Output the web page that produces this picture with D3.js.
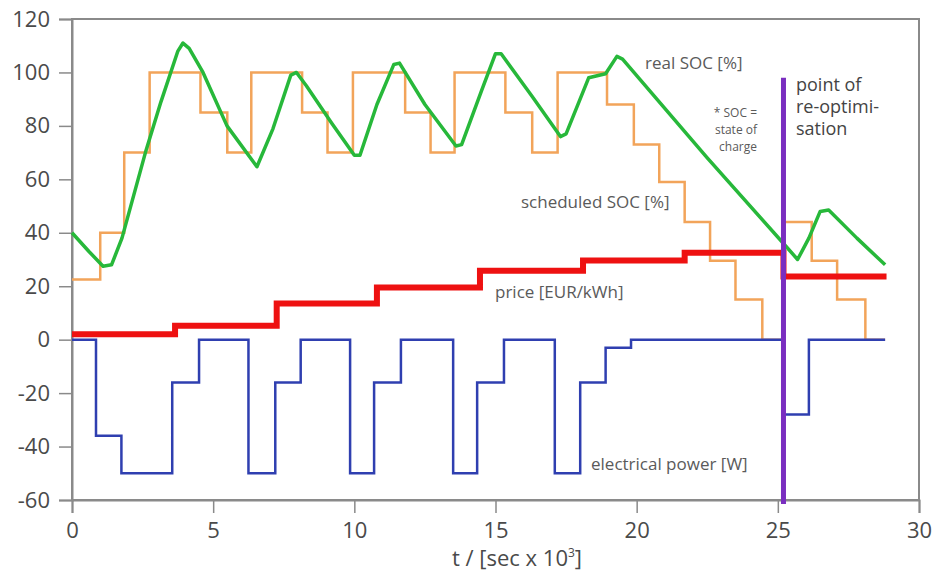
<!DOCTYPE html>
<html>
<head>
<meta charset="utf-8">
<script src="https://cdn.jsdelivr.net/npm/d3@7"></script>
<style>
  body { margin: 0; background: #fff; }
  text { font-family: "Open Sans", "Noto Sans", sans-serif; }
</style>
</head>
<body>
<script>
// scheduled SOC [%] (step after)
var socPlanT = [0, 1.0, 1.85, 2.75, 4.55, 5.5, 6.35, 8.15, 9.05, 9.95, 11.8, 12.7, 13.55, 15.35, 16.3, 17.2, 18.95, 19.9, 20.8, 21.7, 22.6, 23.5, 24.45, 25.2, 26.2, 27.1, 28.1, 28.8];
var socPlanV = [22.5, 40, 70, 100, 85, 70, 100, 85, 70, 100, 85, 70, 100, 85, 70, 100, 88, 73, 59, 44, 29.5, 15, 0, 44, 29.5, 15, 0, 0];

// electrical power [W] (step after)
var powerT = [0, 0.85, 1.75, 3.55, 4.5, 6.25, 7.2, 8.1, 9.85, 10.7, 11.65, 13.5, 14.35, 15.3, 17.1, 18.0, 18.9, 19.8, 25.2, 26.1, 28.8];
var powerV = [0, -36, -50, -16, 0, -50, -16, 0, -50, -16, 0, -50, -16, 0, -50, -16, -3, 0, -28, 0, 0];

// price [EUR/kWh] (step after)
var priceT = [0, 3.65, 7.25, 10.8, 14.45, 18.1, 21.7, 25.2, 28.85];
var priceV = [2, 5.2, 13.5, 19.5, 25.8, 29.6, 32.5, 23.6, 23.6];

// real SOC [%]
var socRealT = [0, 0.6, 1.1, 1.4, 1.77, 2.6, 3.15, 3.75, 3.93, 4.15, 4.64, 5.49, 6.55, 7.12, 7.75, 7.95, 8.3, 9.2, 10.0, 10.2, 10.8, 11.4, 11.6, 12.5, 13.6, 13.8, 14.5, 15.0, 15.2, 16.3, 17.3, 17.5, 18.3, 18.9, 19.3, 19.5, 22.5, 25.2, 25.7, 26.1, 26.5, 26.8, 27.8, 28.8];
var socRealV = [40, 33, 27.5, 28, 38, 70, 89, 108, 111, 109, 100, 80, 64.7, 79, 99, 100, 95, 81, 69, 69, 88, 103, 103.5, 88, 72.5, 73, 93, 107, 107, 91, 76, 77, 98, 99.5, 106, 105, 68, 36, 30, 38, 48, 48.5, 38, 28];

// point of re-optimisation
var reoptT = 25.2;
var reoptRange = [-61.5, 98];

var xTicks = [0, 5, 10, 15, 20, 25, 30];
var yTicks = [-60, -40, -20, 0, 20, 40, 60, 80, 100, 120];

var width = 936, height = 571;
var margin = {top: 19, right: 17, bottom: 71, left: 72};

var svg = d3.select("body").append("svg")
    .attr("width", width)
    .attr("height", height);

var x = d3.scaleLinear().domain([0, 30]).range([margin.left, width - margin.right]);
var y = d3.scaleLinear().domain([-60, 120]).range([height - margin.bottom, margin.top]);

// frame (top + right)
svg.append("rect")
    .attr("x", x(0))
    .attr("y", y(120))
    .attr("width", x(30) - x(0))
    .attr("height", y(-60) - y(120))
    .attr("fill", "none")
    .attr("stroke", "#8a8a8a")
    .attr("stroke-width", 2);

// axes, plain hyphen for negatives like the original
var fmt = function(d) { return String(d); };
var xAxis = svg.append("g")
    .attr("transform", "translate(0," + y(-60) + ")")
    .call(d3.axisBottom(x).tickValues(xTicks).tickFormat(fmt).tickSize(13).tickPadding(9));
var yAxis = svg.append("g")
    .attr("transform", "translate(" + x(0) + ",0)")
    .call(d3.axisLeft(y).tickValues(yTicks).tickFormat(fmt).tickSize(13).tickPadding(9));

[xAxis, yAxis].forEach(function(g) {
  g.select(".domain").attr("stroke", "#8a8a8a").attr("stroke-width", 2);
  g.selectAll(".tick line").attr("stroke", "#8a8a8a").attr("stroke-width", 1.5);
  g.selectAll(".tick text")
    .attr("fill", "#4a4a4a")
    .style("font-size", "22px")
    .style("font-family", "'Open Sans', sans-serif");
});

// axis title
var title = svg.append("text")
    .attr("x", 517)
    .attr("y", 566)
    .attr("text-anchor", "middle")
    .attr("fill", "#4a4a4a")
    .style("font-size", "22px");
title.append("tspan").text("t / [sec x 10");
title.append("tspan").attr("dy", -9).style("font-size", "12px").text("3");
title.append("tspan").attr("dy", 9).text("]");

function pts(ts, vs) {
  return ts.map(function(t, i) { return [t, vs[i]]; });
}

var stepLine = d3.line()
    .x(function(d) { return x(d[0]); })
    .y(function(d) { return y(d[1]); })
    .curve(d3.curveStepAfter);

var plainLine = d3.line()
    .x(function(d) { return x(d[0]); })
    .y(function(d) { return y(d[1]); });

svg.append("path")
    .datum(pts(socPlanT, socPlanV))
    .attr("d", stepLine)
    .attr("fill", "none")
    .attr("stroke", "#f2a45a")
    .attr("stroke-width", 2.5);

svg.append("path")
    .datum(pts(powerT, powerV))
    .attr("d", stepLine)
    .attr("fill", "none")
    .attr("stroke", "#2f3fb0")
    .attr("stroke-width", 2.5);

svg.append("path")
    .datum(pts(priceT, priceV))
    .attr("d", stepLine)
    .attr("fill", "none")
    .attr("stroke", "#ee1111")
    .attr("stroke-width", 6);

svg.append("path")
    .datum(pts(socRealT, socRealV))
    .attr("d", plainLine)
    .attr("fill", "none")
    .attr("stroke", "#27b83a")
    .attr("stroke-width", 3.5)
    .attr("stroke-linejoin", "round");

svg.append("line")
    .attr("x1", x(reoptT)).attr("x2", x(reoptT))
    .attr("y1", y(reoptRange[0])).attr("y2", y(reoptRange[1]))
    .attr("stroke", "#7a2ec0")
    .attr("stroke-width", 5);

// annotations
function label(txt, lx, ly, size, anchor, color) {
  svg.append("text")
    .attr("x", lx).attr("y", ly)
    .attr("text-anchor", anchor || "start")
    .attr("fill", color || "#5a5a5a")
    .style("font-size", size + "px")
    .text(txt);
}

label("real SOC [%]", 645, 69, 17);
label("scheduled SOC [%]", 521, 208, 17);
label("price [EUR/kWh]", 495, 298, 17);
label("electrical power [W]", 591, 470, 17);

label("* SOC =", 757, 117, 12, "end");
label("state of", 757, 134, 12, "end");
label("charge", 757, 151, 12, "end");

label("point of", 796, 91, 18, "start", "#444");
label("re-optimi-", 796, 113, 18, "start", "#444");
label("sation", 796, 135, 18, "start", "#444");
</script>
</body>
</html>
